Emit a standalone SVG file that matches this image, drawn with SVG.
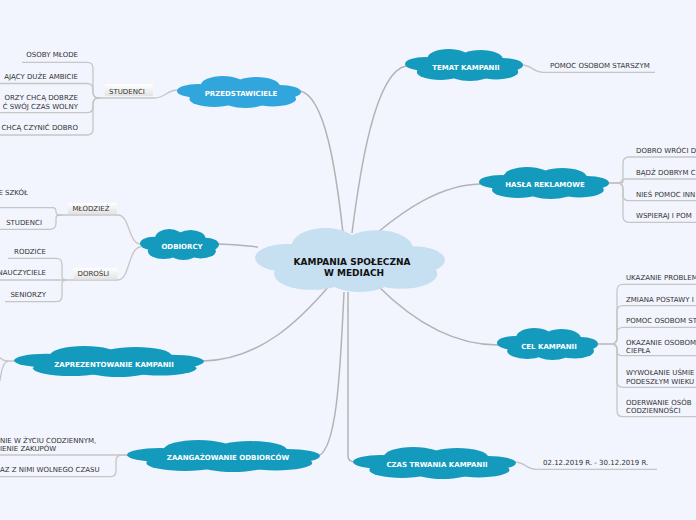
<svg xmlns="http://www.w3.org/2000/svg" xmlns:xlink="http://www.w3.org/1999/xlink" width="696" height="520" viewBox="0 0 696 520">
<style>
.bg{fill:#f2f5fd}
.con{fill:none;stroke:#b3b3b3;stroke-width:1.5}
.sub{fill:none;stroke:#c6c6c6;stroke-width:1.3}
.t{font-family:"DejaVu Sans",Verdana,sans-serif;font-size:7px;fill:#333}
.ct{font-family:"DejaVu Sans",Verdana,sans-serif;font-size:7px;font-weight:bold;fill:#fff;text-anchor:middle}
.mt{font-family:"DejaVu Sans",Verdana,sans-serif;font-size:9px;font-weight:bold;fill:#111;text-anchor:middle}
.e{text-anchor:end}
.teal{fill:#139abd}
.sky{fill:#31a6dc}
.pale{fill:#c6dff1}
.lbl{fill:url(#lg)}
</style>
<defs>
<linearGradient id="lg" x1="0" y1="0" x2="0" y2="1"><stop offset="0" stop-color="#ffffff"/><stop offset="1" stop-color="#e3e3e3"/></linearGradient>
<symbol id="cloud" viewBox="0 0 100 30" preserveAspectRatio="none">
<ellipse cx="50" cy="15.5" rx="40" ry="10"/>
<ellipse cx="37" cy="9" rx="18" ry="9"/>
<ellipse cx="64" cy="9.5" rx="19" ry="8.5"/>
<ellipse cx="17" cy="14" rx="17" ry="6.5"/>
<ellipse cx="83" cy="15" rx="17" ry="6.5"/>
<ellipse cx="30" cy="21.5" rx="20" ry="7.5"/>
<ellipse cx="55" cy="23.5" rx="17" ry="6.5"/>
<ellipse cx="77" cy="21.5" rx="19" ry="7"/>
</symbol>
</defs>
<rect class="bg" x="0" y="0" width="696" height="520"/>
<g id="connectors">
<path class="con" d="M343 233 C336 170 325 96 300 91"/>
<path class="con" d="M352 233 C360 170 375 72 406 66"/>
<path class="con" d="M378 232 C405 210 440 185 480 184"/>
<path class="con" d="M378 286 C410 318 450 345 498 345"/>
<path class="con" d="M348 292 L348 456 Q348 462 356 462"/>
<path class="con" d="M344 292 C340 380 336 450 318 456"/>
<path class="con" d="M330 285 C300 320 260 360 203 361"/>
<path class="con" d="M258 247 C245 246 232 244 218 244"/>
<path class="sub" d="M178 90 C166 90 166 98 154 98 L100 98"/>
<path class="sub" d="M100 98 L99 98 Q93 98 93 92 L93 68.3 Q93 62.3 87 62.3 L22 62.3"/>
<path class="sub" d="M100 98 L99 98 Q93 98 93 92 L93 89.5 Q93 83.5 87 83.5 L0 83.5"/>
<path class="sub" d="M100 98 L99 98 Q93 98 93 104 L93 106.7 Q93 112.7 87 112.7 L0 112.7"/>
<path class="sub" d="M100 98 L99 98 Q93 98 93 104 L93 129 Q93 135 87 135 L0 135"/>
<path class="sub" d="M141 244 C128 244 130 215 118 215 L62 215"/>
<path class="sub" d="M62 215 L59.5 215 Q56 215 56 211.5 Q56 207.7 52.5 207.7 L0 207.7"/>
<path class="sub" d="M62 215 L59.5 215 Q56 215 56 218.5 L56 223.3 Q56 229.3 50 229.3 L0 229.3"/>
<path class="sub" d="M141 247 C128 247 130 280 118 280 L0 280"/>
<path class="sub" d="M66 280 Q62 280 62 276 L62 264.3 Q62 258.3 56 258.3 L8 258.3"/>
<path class="sub" d="M66 280 Q62 280 62 284 L62 295.7 Q62 301.7 56 301.7 L5 301.7"/>
<path class="sub" d="M15 361 L8 361 Q3 361 0 357.5"/>
<path class="sub" d="M8 361 C3 362 1 372 0 381"/>
<path class="sub" d="M128 455 L0 455"/>
<path class="sub" d="M128 455 L122 455 Q116 455 116 461 L116 470.7 Q116 476.7 110 476.7 L0 476.7"/>
<path class="sub" d="M522 65 C532 65 533 72.3 543 72.3 L655 72.3"/>
<path class="sub" d="M515 462 C525 462 526 469.3 536 469.3 L657 469.3"/>
<path class="sub" d="M608 183 L617 183 Q623 183 623 177 L623 163 Q623 157 629 157 L696 157"/>
<path class="sub" d="M608 183 L621 183 Q623 183 623 181 Q623 179 625 179 L696 179"/>
<path class="sub" d="M608 183 L617 183 Q623 183 623 189 L623 194.7 Q623 200.7 629 200.7 L696 200.7"/>
<path class="sub" d="M608 183 L617 183 Q623 183 623 189 L623 216.3 Q623 222.3 629 222.3 L696 222.3"/>
<path class="sub" d="M598 344 L611 344 Q617 344 617 338 L617 290.3 Q617 284.3 623 284.3 L696 284.3"/>
<path class="sub" d="M598 344 L611 344 Q617 344 617 338 L617 311.7 Q617 305.7 623 305.7 L696 305.7"/>
<path class="sub" d="M598 344 L611 344 Q617 344 617 338 L617 333.3 Q617 327.3 623 327.3 L696 327.3"/>
<path class="sub" d="M598 344 L612 344 Q617 344 617 349 L617 350.7 Q617 355.7 622 355.7 L696 355.7"/>
<path class="sub" d="M598 344 L611 344 Q617 344 617 350 L617 381.3 Q617 387.3 623 387.3 L696 387.3"/>
<path class="sub" d="M598 344 L611 344 Q617 344 617 350 L617 410.7 Q617 416.7 623 416.7 L696 416.7"/>
</g>
<g id="center">
<use xlink:href="#cloud" href="#cloud" class="pale" x="255" y="228" width="190" height="64"/>
<text class="mt" x="352" y="265">KAMPANIA SPOŁECZNA</text>
<text class="mt" x="354" y="276">W MEDIACH</text>
</g>
<g id="przedstawiciele">
<use href="#cloud" class="sky" x="177" y="76" width="124" height="32"/>
<text class="ct" x="241" y="96">PRZEDSTAWICIELE</text>
</g>
<g id="studenci">
<rect class="lbl" x="105" y="84" width="48" height="12" rx="1"/>
<text class="t" x="109" y="93.5">STUDENCI</text>
</g>
<g id="studenci-children">
<text class="t e" x="78" y="57.3">OSOBY MŁODE</text>
<text class="t e" x="78" y="78.5">AJĄCY DUŻE AMBICIE</text>
<text class="t e" x="78" y="99.8">ORZY CHCĄ DOBRZE</text>
<text class="t e" x="78" y="108.5">Ć SWÓJ CZAS WOLNY</text>
<text class="t e" x="78" y="130">CHCĄ CZYNIĆ DOBRO</text>
</g>
<g id="odbiorcy">
<use href="#cloud" class="teal" x="140" y="229" width="79" height="31"/>
<text class="ct" x="182" y="248.5">ODBIORCY</text>
</g>
<g id="mlodziez">
<rect class="lbl" x="68" y="203" width="49" height="11" rx="1"/>
<text class="t" x="72.5" y="211">MŁODZIEŻ</text>
<text class="t e" x="28" y="195">E SZKÓŁ</text>
<text class="t e" x="42" y="225">STUDENCI</text>
</g>
<g id="dorosli">
<rect class="lbl" x="73.5" y="268" width="44" height="11.5" rx="1"/>
<text class="t" x="77.5" y="276">DOROŚLI</text>
<text class="t e" x="46" y="253.5">RODZICE</text>
<text class="t e" x="46" y="274.5">NAUCZYCIELE</text>
<text class="t e" x="46" y="297">SENIORZY</text>
</g>
<g id="zaprezentowanie">
<use href="#cloud" class="teal" x="14" y="346" width="190" height="31"/>
<text class="ct" x="114" y="366.5">ZAPREZENTOWANIE KAMPANII</text>
</g>
<g id="zaangazowanie">
<use href="#cloud" class="teal" x="127" y="440" width="193" height="32"/>
<text class="ct" x="228" y="460">ZAANGAŻOWANIE ODBIORCÓW</text>
<text class="t" x="0" y="442.5">NIE W ŻYCIU CODZIENNYM,</text>
<text class="t" x="0" y="451">IENIE ZAKUPÓW</text>
<text class="t" x="0" y="471.5">AZ Z NIMI WOLNEGO CZASU</text>
</g>
<g id="temat">
<use href="#cloud" class="teal" x="405" y="49" width="118" height="32"/>
<text class="ct" x="466" y="70">TEMAT KAMPANII</text>
<text class="t" x="550" y="68">POMOC OSOBOM STARSZYM</text>
</g>
<g id="hasla">
<use href="#cloud" class="teal" x="479" y="167" width="130" height="32"/>
<text class="ct" x="545" y="187">HASŁA REKLAMOWE</text>
<text class="t" x="636" y="153">DOBRO WRÓCI D</text>
<text class="t" x="636" y="175">BĄDŹ DOBRYM C</text>
<text class="t" x="636" y="196.5">NIEŚ POMOC INN</text>
<text class="t" x="636" y="217.5">WSPIERAJ I POM</text>
</g>
<g id="cel">
<use href="#cloud" class="teal" x="497" y="328" width="101" height="32"/>
<text class="ct" x="549" y="348.5">CEL KAMPANII</text>
<text class="t" x="626" y="280">UKAZANIE PROBLEM</text>
<text class="t" x="626" y="301.5">ZMIANA POSTAWY I</text>
<text class="t" x="626" y="323">POMOC OSOBOM ST</text>
<text class="t" x="626" y="344.5">OKAZANIE OSOBOM</text>
<text class="t" x="626" y="353">CIEPŁA</text>
<text class="t" x="626" y="375">WYWOŁANIE UŚMIE</text>
<text class="t" x="626" y="384">PODESZŁYM WIEKU</text>
<text class="t" x="626" y="404.5">ODERWANIE OSÓB</text>
<text class="t" x="626" y="413">CODZIENNOŚCI</text>
</g>
<g id="czas">
<use href="#cloud" class="teal" x="353" y="447" width="163" height="32"/>
<text class="ct" x="437" y="467">CZAS TRWANIA KAMPANII</text>
<text class="t" x="543" y="465">02.12.2019 R. - 30.12.2019 R.</text>
</g>
</svg>
